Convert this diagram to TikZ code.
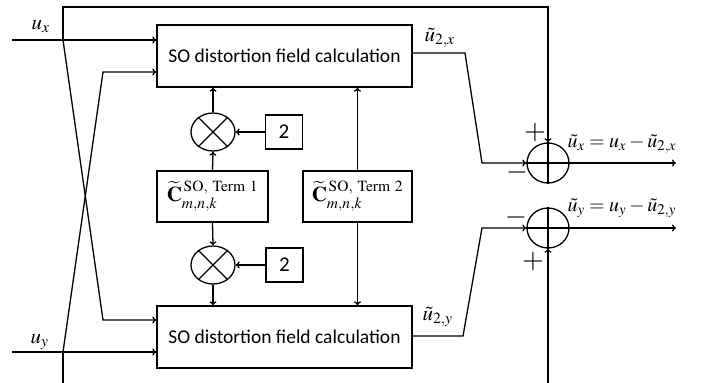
\documentclass[tikz,border=0pt]{standalone}
\usepackage{mathptmx}
\usepackage[no-math]{fontspec}
\setmainfont{Carlito}
\usetikzlibrary{arrows.meta,shapes.geometric}
\begin{document}
\begin{tikzpicture}[x=1pt,y=-1pt,line width=1.3pt,
  arr/.style={-{To[length=4pt,width=7pt]}},
  blk/.style={draw,rectangle,minimum width=255pt,minimum height=62pt,inner sep=0pt,font=\fontsize{19.5}{22}\selectfont},
  cbox/.style={draw,rectangle,minimum height=51pt,inner sep=0pt,font=\fontsize{21}{24}\selectfont},
  twobox/.style={draw,rectangle,minimum width=37pt,minimum height=34pt,inner sep=0pt,font=\fontsize{21}{22}\selectfont},
  mult/.style={draw,ellipse,minimum width=44pt,minimum height=38pt,inner sep=0pt},
  summ/.style={draw,ellipse,minimum width=42pt,minimum height=40pt,inner sep=0pt},
  lbl/.style={inner sep=0pt,font=\fontsize{21}{22}\selectfont},
  sgn/.style={inner sep=0pt,font=\fontsize{28}{28}\selectfont}]
\useasboundingbox (0,0) rectangle (702,383);

% blocks
\node[blk] (tb) at (284.5,56) {SO distortion field calculation};
\node[blk] (bb) at (284.5,337) {SO distortion field calculation};
\node[cbox,minimum width=111pt] (c1) at (212.5,196.5) {$\widetilde{\mathbf{C}}^{\,\mathrm{SO,\ Term\ 1}}_{m,n,k}$};
\node[cbox,minimum width=109pt] (c2) at (357.5,196.5) {$\widetilde{\mathbf{C}}^{\,\mathrm{SO,\ Term\ 2}}_{m,n,k}$};
\node[mult] (m1) at (213,132) {};
\node[mult] (m2) at (213,265) {};
\draw (m1.45) -- (m1.225) (m1.135) -- (m1.315);
\draw (m2.45) -- (m2.225) (m2.135) -- (m2.315);
\node[twobox] (t1) at (284,132) {2};
\node[twobox] (t2) at (284.5,265) {2};
\node[summ] (s1) at (548,163) {};
\node[summ] (s2) at (548,228) {};
\draw (s1.north) -- (s1.south) (s1.west) -- (s1.east);
\draw (s2.north) -- (s2.south) (s2.west) -- (s2.east);

% coordinates
\coordinate (ux) at (12,40);
\coordinate (uy) at (12,352);
\coordinate (jx) at (63,40);
\coordinate (jy) at (63,352);
\coordinate (tl) at (63,7);
\coordinate (tr) at (548,7);
\coordinate (bl) at (63,384);
\coordinate (br) at (548,384);
\coordinate (kx) at (103,320);
\coordinate (ky) at (103,72);
\coordinate (ox1) at (465,53);
\coordinate (ox2) at (482,163);
\coordinate (oy1) at (463,336);
\coordinate (oy2) at (482,228);
\coordinate (ex) at (676,163);
\coordinate (ey) at (676,228);

% inputs
\draw[arr] (ux) -- (ux -| tb.west);
\draw[arr] (uy) -- (uy -| bb.west);
\draw[arr] (jx) -- (tl) -- (tr) -- (s1.north);
\draw (jy) -- (bl);
\draw[arr] (br) -- (s2.south);
\draw[arr] (jx) -- (kx) -- (kx -| bb.west);
\draw[arr] (jy) -- (ky) -- (ky -| tb.west);

% internal
\draw[arr] (c1.north) -- (m1.south);
\draw[arr] (m1.north) -- (m1.north |- tb.south);
\draw[arr] (c1.south) -- (m2.north);
\draw[arr] (m2.south) -- (m2.south |- bb.north);
\draw[arr] (t1.west) -- (m1.east);
\draw[arr] (t2.west) -- (m2.east);
\draw[arr] (c2.north) -- (c2.north |- tb.south);
\draw[arr] (c2.south) -- (c2.south |- bb.north);

% outputs
\draw[arr] (tb.east |- ox1) -- (ox1) -- (ox2) -- (s1.west);
\draw[arr] (bb.east |- oy1) -- (oy1) -- (oy2) -- (s2.west);
\draw[arr] (s1.east) -- (ex);
\draw[arr] (s2.east) -- (ey);

% labels
\node[lbl,anchor=base west] (lux) at (31,29) {$u_x$};
\node[lbl,anchor=base west] (luy) at (30,343) {$u_y$};
\node[lbl,anchor=base west] (l2x) at (424,41) {$\tilde{u}_{2,x}$};
\node[lbl,anchor=base west] (l2y) at (422,320) {$\tilde{u}_{2,y}$};
\node[lbl,anchor=base west,font=\fontsize{20}{22}\selectfont] (lex) at (567,147) {$\tilde{u}_x = u_x - \tilde{u}_{2,x}$};
\node[lbl,anchor=base west,font=\fontsize{20}{22}\selectfont] (ley) at (567,211) {$\tilde{u}_y = u_y - \tilde{u}_{2,y}$};
\node[sgn] (p1) at (535,133) {$+$};
\node[sgn] (n1) at (517,172) {$-$};
\node[sgn] (n2) at (516,217) {$-$};
\node[sgn] (p2) at (533,262) {$+$};
\end{tikzpicture}
\end{document}
